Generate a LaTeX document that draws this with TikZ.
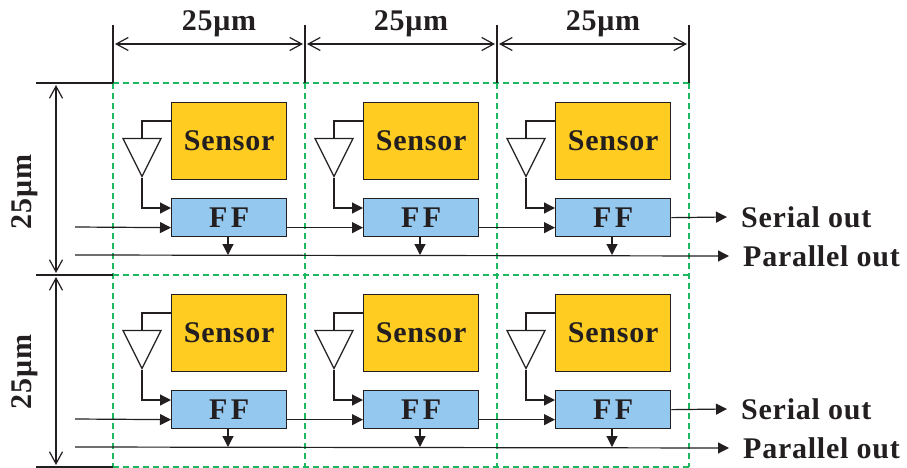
\documentclass[tikz,border=0pt]{standalone}
\usepackage{fontspec}
\setmainfont{Liberation Serif}
\newfontfamily\lblfont[LetterSpace=2.5]{Liberation Serif Bold}
\newfontfamily\fffont[LetterSpace=12]{Liberation Serif Bold}
\usetikzlibrary{arrows.meta,shapes.geometric}
\definecolor{ink}{HTML}{231F20}
\definecolor{sens}{HTML}{FFCC22}
\definecolor{ffb}{HTML}{95C8EE}
\definecolor{grn}{HTML}{1DB860}
\tikzset{
  x=1pt,y=-1pt,
  every path/.style={},
  wire/.style={draw=ink,line width=1.2pt},
  sig/.style={wire,-{Triangle[length=11pt,width=11pt]}},
  dim/.style={draw=ink,line width=1.2pt,{Straight Barb[length=12pt,width=13pt]}-{Straight Barb[length=12pt,width=13pt]}},
  ext/.style={draw=ink,line width=1.2pt},
  cell/.style={draw=grn,line width=1.2pt,dash pattern=on 6pt off 4pt},
  box/.style={draw=ink,line width=1.3pt,inner sep=0pt,anchor=north west,minimum width=115pt},
  sensorbox/.style={box,fill=sens,minimum height=77pt},
  ffbox/.style={box,fill=ffb,minimum height=38pt},
  amp/.style={draw=ink,line width=1.2pt,isosceles triangle,shape border rotate=-90,isosceles triangle stretches,minimum width=38pt,minimum height=38pt,inner sep=0pt,anchor=apex},
  lbl/.style={font=\fontsize{30}{30}\lblfont,text=ink,inner sep=0pt},
  outl/.style={lbl,anchor=west,inner ysep=0pt,inner xsep=14pt},
}
\begin{document}
\begin{tikzpicture}
\useasboundingbox (0,0) rectangle (907,468);
% grid
\foreach \n/\xx in {0/113,1/305,2/497,3/689}{
  \coordinate (vt\n) at (\xx,83);
  \coordinate (vb\n) at (\xx,467);
  \coordinate (vu\n) at (\xx,25);
  \coordinate (va\n) at (\xx,44);
  \path[cell] (vt\n) -- (vb\n);
}
\foreach \n/\yy in {0/83,1/275,2/467}{
  \coordinate (hl\n) at (113,\yy);
  \coordinate (hr\n) at (689,\yy);
  \coordinate (he\n) at (36,\yy);
  \coordinate (hv\n) at (56,\yy);
  \path[cell] (hl\n) -- (hr\n);
  \path[ext] (he\n) -- (hl\n);
}
\foreach \n in {0,1,2,3}{ \path[ext] (vu\n) -- (vt\n); }
% dimensions
\path[dim] ([xshift=2pt]va0) -- ([xshift=-2pt]va1);
\path[dim] ([xshift=2pt]va1) -- ([xshift=-2pt]va2);
\path[dim] ([xshift=2pt]va2) -- ([xshift=-2pt]va3);
\path[dim] ([yshift=-2pt]hv0) -- ([yshift=2pt]hv1);
\path[dim] ([yshift=-2pt]hv1) -- ([yshift=2pt]hv2);
\node[lbl] (d1) at (219,24) {25μm};
\node[lbl] (d2) at (411,24) {25μm};
\node[lbl] (d3) at (603,24) {25μm};
\node[lbl,rotate=90] (d4) at (25,192) {25μm};
\node[lbl,rotate=90] (d5) at (25,372) {25μm};
% cells
\foreach \r/\yo in {1/0,2/192}{
  \foreach \c/\xo in {1/0,2/192,3/384}{
    \node[sensorbox,lbl,box,fill=sens,minimum height=77pt] (s\r\c) at (171+\xo,102+\yo) {Sensor};
    \node[ffbox,lbl,box,fill=ffb,minimum height=38pt,font=\fontsize{30}{30}\fffont] (f\r\c) at (171+\xo,198+\yo) {FF};
    \node[amp] (t\r\c) at (142+\xo,178+\yo) {};
    \coordinate (k\r\c) at (142+\xo,121+\yo);
    \coordinate (m\r\c) at (142+\xo,208+\yo);
    \coordinate (e\r\c) at (171+\xo,208+\yo);
    \coordinate (n\r\c) at (171+\xo,121+\yo);
    \coordinate (p\r\c) at (228+\xo,255+\yo);
    \coordinate (q\r\c) at (228+\xo,236+\yo);
    \path[wire] (n\r\c) -- (k\r\c) -- (t\r\c.lower side);
    \path[sig] (t\r\c.apex) -- (m\r\c) -- (e\r\c);
    \path[sig] (q\r\c) -- (p\r\c);
  }
  \coordinate (in\r) at (75,227+\yo);
  \coordinate (pl\r) at (75,255+\yo);
  \node[outl] (so\r) at (727,217+\yo) {Serial out};
  \node[outl] (po\r) at (729,256+\yo) {Parallel out};
  \path[sig] (in\r) -- ([yshift=-10pt]f\r1.west);
  \path[sig] ([yshift=-10pt]f\r1.east) -- ([yshift=-10pt]f\r2.west);
  \path[sig] ([yshift=-10pt]f\r2.east) -- ([yshift=-10pt]f\r3.west);
  \path[sig] (f\r3.east) -- (so\r.west);
  \path[sig] (pl\r) -- (po\r.west);
}
\end{tikzpicture}
\end{document}
